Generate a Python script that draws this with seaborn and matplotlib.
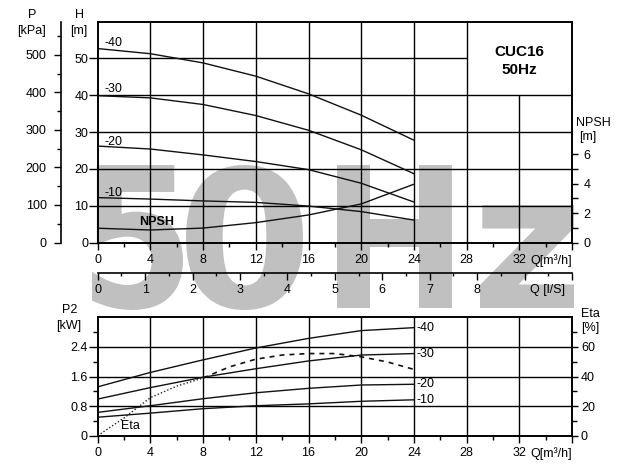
"""Pump curve sheet CUC16 50Hz: head / NPSH and power / efficiency."""

import matplotlib

matplotlib.use("Agg")
import matplotlib.pyplot as plt
import pandas as pd
import seaborn as sns
from matplotlib.font_manager import FontProperties
from matplotlib.patches import PathPatch
from matplotlib.textpath import TextPath
from matplotlib.ticker import FixedFormatter, FixedLocator, MultipleLocator
from matplotlib.transforms import Affine2D

# flow points, m3/h
Q = [0, 4, 8, 12, 16, 20, 24]
STAGES = ["-40", "-30", "-20", "-10"]

# head, m
H_40 = [52.7, 51.3, 48.8, 45.2, 40.4, 34.6, 27.8]
H_30 = [39.9, 39.3, 37.5, 34.5, 30.5, 25.2, 18.7]
H_20 = [26.2, 25.4, 23.8, 22.0, 19.8, 16.1, 11.0]
H_10 = [12.2, 11.8, 11.3, 10.9, 9.9, 8.4, 6.1]
NPSH = [0.97, 0.85, 0.98, 1.35, 1.87, 2.62, 3.96]

# shaft power, kW
P2_40 = [1.32, 1.71, 2.05, 2.37, 2.63, 2.84, 2.92]
P2_30 = [0.99, 1.30, 1.58, 1.81, 2.02, 2.18, 2.22]
P2_20 = [0.63, 0.81, 1.00, 1.16, 1.28, 1.37, 1.39]
P2_10 = [0.50, 0.61, 0.73, 0.81, 0.86, 0.93, 0.97]

# efficiency, %
Q_ETA = [0, 2, 4, 6, 8, 10, 12, 14, 16, 18, 20, 22, 24]
ETA = [0, 12.0, 25.7, 33.5, 39.0, 46.5, 51.7, 54.5, 55.5, 55.5, 53.3, 49.8, 44.8]

X_TICKS = [0, 4, 8, 12, 16, 20, 24, 28, 32, 36]
X_LABELS = ["0", "4", "8", "12", "16", "20", "24", "28", "32", ""]
LS_TICKS = list(range(0, 11))
LS_LABELS = ["0", "1", "2", "3", "4", "5", "6", "7", "8", "", ""]

# watermark glyphs and their pixel boxes (x0, y0, x1, y1)
WM_CHARS = ["5", "0", "H", "z"]
WM_BOXES = [(92, 165, 183, 310), (186, 165, 303, 310),
            (337, 165, 452, 308), (480, 205, 574, 308)]

W, H = 631, 470
FS = 9
LS_POS = -30.8 / 220.8


def long_frame(x, series):
    rows = []
    for name, vals in zip(STAGES, series):
        for q, v in zip(x, vals):
            rows.append((name, q, v))
    return pd.DataFrame(rows, columns=["stage", "Q", "value"])


def fig_box(x0, y0, x1, y1):
    """Pixel box (top-left origin) -> figure fraction rect."""
    return [x0 / W, 1 - y1 / H, (x1 - x0) / W, (y1 - y0) / H]


def style_xaxis(ax):
    ax.set_xlim(0, 36)
    ax.xaxis.set_major_locator(FixedLocator(X_TICKS))
    ax.xaxis.set_major_formatter(FixedFormatter(X_LABELS))
    ax.xaxis.set_minor_locator(MultipleLocator(2))
    ax.tick_params(axis="x", which="major", direction="out", length=5.2,
                   width=1, pad=3.0, labelsize=FS, bottom=True)
    ax.tick_params(axis="x", which="minor", direction="out", length=2.8,
                   width=1, bottom=True)
    ax.annotate("Q[m³/h]", xy=(36, 0), xycoords=ax.get_xaxis_transform(),
                xytext=(0, -8.2), textcoords="offset points",
                ha="right", va="top", fontsize=FS)


sns.set_theme(style="white")
plt.rcParams["font.family"] = ["Liberation Sans", "DejaVu Sans"]
plt.rcParams["axes.edgecolor"] = "black"
plt.rcParams["axes.linewidth"] = 1.2
plt.rcParams["xtick.color"] = "black"
plt.rcParams["ytick.color"] = "black"
plt.rcParams["text.color"] = "black"

fig = plt.figure(figsize=(W / 100, H / 100), dpi=100)

# big grey watermark behind everything
wm_font = FontProperties(family="DejaVu Sans", weight="bold")
for ch, box in zip(WM_CHARS, WM_BOXES):
    glyph = TextPath((0, 0), ch, size=100, prop=wm_font)
    ext = glyph.get_extents()
    bx = fig_box(*box)
    tr = (Affine2D().translate(-ext.x0, -ext.y0)
          .scale(bx[2] / ext.width, bx[3] / ext.height)
          .translate(bx[0], bx[1]))
    fig.add_artist(PathPatch(tr.transform_path(glyph), facecolor="#c0c0c0",
                             edgecolor="none", transform=fig.transFigure,
                             zorder=-5))

# ---------------- head / NPSH panel ----------------
ax_h = fig.add_axes(fig_box(97.7, 21.7, 572, 242.5))
ax_h.set_facecolor("none")
ax_h.set_ylim(0, 60)
style_xaxis(ax_h)
ax_h.yaxis.set_major_locator(FixedLocator([0, 10, 20, 30, 40, 50]))
ax_h.tick_params(axis="y", which="major", direction="out", length=6.3,
                 width=1, pad=0.5, labelsize=FS, left=True)

for q in [4, 8, 12, 16, 20, 24, 28]:
    ax_h.axvline(q, color="black", lw=1.0, zorder=1)
ax_h.vlines(32, 0, 40, color="black", lw=1.0, zorder=1)
for h in [10, 20, 30, 40]:
    ax_h.axhline(h, color="black", lw=1.0, zorder=1)
ax_h.hlines(50, 0, 28, color="black", lw=1.0, zorder=1)

head = long_frame(Q, [H_40, H_30, H_20, H_10])
sns.lineplot(data=head, x="Q", y="value", units="stage", estimator=None,
             color="#111111", lw=1.0, legend=False, ax=ax_h, zorder=3)
ax_h.set_xlabel("")
ax_h.set_ylabel("")

for name, y in zip(STAGES, [54.1, 41.8, 27.2, 13.5]):
    ax_h.text(0.55, y, name, fontsize=FS, ha="left", va="center")
ax_h.text(4.5, 5.7, "NPSH", fontsize=FS, fontweight="bold",
          ha="center", va="center")
ax_h.text(32.0, 51.9, "CUC16", fontsize=11, fontweight="bold",
          ha="center", va="center")
ax_h.text(32.0, 47.0, "50Hz", fontsize=11, fontweight="bold",
          ha="center", va="center")

# pressure scale on the far left
ax_kpa = ax_h.secondary_yaxis(-37 / 474.3,
                              functions=(lambda h: h * 9.81, lambda p: p / 9.81))
ax_kpa.yaxis.set_major_locator(FixedLocator([0, 100, 200, 300, 400, 500]))
ax_kpa.yaxis.set_minor_locator(MultipleLocator(50))
ax_kpa.tick_params(which="major", direction="out", length=5, width=1,
                   pad=5, labelsize=FS)
ax_kpa.tick_params(which="minor", direction="out", length=2.8, width=1)
ax_kpa.spines["left"].set_linewidth(1.2)

# flow scale in l/s
ax_ls = ax_h.secondary_xaxis(LS_POS,
                             functions=(lambda q: q / 3.6, lambda l: l * 3.6))
ax_ls.xaxis.set_major_locator(FixedLocator(LS_TICKS))
ax_ls.xaxis.set_major_formatter(FixedFormatter(LS_LABELS))
ax_ls.xaxis.set_minor_locator(MultipleLocator(0.5))
ax_ls.tick_params(which="major", direction="out", length=4.8, width=1,
                  pad=2.8, labelsize=FS)
ax_ls.tick_params(which="minor", direction="out", length=2.4, width=1)
ax_ls.spines["bottom"].set_linewidth(1.2)
ax_h.annotate("Q [l/S]", xy=(9.85 * 3.6, LS_POS),
              xycoords=ax_h.get_xaxis_transform(),
              xytext=(0, -7.6), textcoords="offset points",
              ha="right", va="top", fontsize=FS)

# NPSH scale on the right
ax_n = ax_h.twinx()
ax_n.set_facecolor("none")
ax_n.set_ylim(0, 15)
ax_n.yaxis.set_major_locator(FixedLocator([0, 2, 4, 6]))
ax_n.yaxis.set_minor_locator(FixedLocator([1, 3, 5]))
ax_n.tick_params(axis="y", which="major", direction="out", length=4.3,
                 width=1, pad=4, labelsize=FS, right=True)
ax_n.tick_params(axis="y", which="minor", direction="out", length=4.3,
                 width=1, right=True)
npsh = pd.DataFrame({"Q": Q, "NPSH": NPSH})
sns.lineplot(data=npsh, x="Q", y="NPSH", color="#111111", lw=1.0,
             ax=ax_n, zorder=3)
ax_n.set_ylabel("")

fig.text(32 / W, 1 - 15 / H, "P", fontsize=FS, ha="center", va="center")
fig.text(31 / W, 1 - 31 / H, "[kPa]", fontsize=FS, ha="center", va="center")
fig.text(79 / W, 1 - 15 / H, "H", fontsize=FS, ha="center", va="center")
fig.text(79 / W, 1 - 31 / H, "[m]", fontsize=FS, ha="center", va="center")
fig.text(593 / W, 1 - 123 / H, "NPSH", fontsize=FS, ha="center", va="center")
fig.text(588 / W, 1 - 137 / H, "[m]", fontsize=FS, ha="center", va="center")

# ---------------- power / efficiency panel ----------------
ax_p = fig.add_axes(fig_box(97.7, 317.3, 572, 435.7))
ax_p.set_facecolor("none")
ax_p.set_ylim(0, 3.2)
style_xaxis(ax_p)
ax_p.yaxis.set_major_locator(FixedLocator([0, 0.8, 1.6, 2.4]))
ax_p.yaxis.set_major_formatter(FixedFormatter(["0", "0.8", "1.6", "2.4"]))
ax_p.yaxis.set_minor_locator(FixedLocator([0.4, 1.2, 2.0, 2.8]))
ax_p.tick_params(axis="y", which="major", direction="out", length=6.3,
                 width=1, pad=1, labelsize=FS, left=True)
ax_p.tick_params(axis="y", which="minor", direction="out", length=3.5,
                 width=1, left=True)

for q in [4, 8, 12, 16, 20, 24, 28, 32]:
    ax_p.axvline(q, color="black", lw=1.0, zorder=1)
for p in [0.8, 1.6, 2.4]:
    ax_p.axhline(p, color="black", lw=1.0, zorder=1)

power = long_frame(Q, [P2_40, P2_30, P2_20, P2_10])
sns.lineplot(data=power, x="Q", y="value", units="stage", estimator=None,
             color="#111111", lw=1.0, legend=False, ax=ax_p, zorder=3)
ax_p.set_xlabel("")
ax_p.set_ylabel("")
for name, vals in zip(STAGES, [P2_40, P2_30, P2_20, P2_10]):
    ax_p.text(24.2, vals[-1], name, fontsize=FS, ha="left", va="center")
ax_p.text(2.5, 0.265, "Eta", fontsize=FS, ha="center", va="center")

ax_e = ax_p.twinx()
ax_e.set_facecolor("none")
ax_e.set_ylim(0, 80)
ax_e.yaxis.set_major_locator(FixedLocator([0, 20, 40, 60]))
ax_e.yaxis.set_minor_locator(FixedLocator([10, 30, 50, 70]))
ax_e.tick_params(axis="y", which="major", direction="out", length=4,
                 width=1, pad=2.4, labelsize=FS, right=True)
ax_e.tick_params(axis="y", which="minor", direction="out", length=3.3,
                 width=1, right=True)
eta = pd.DataFrame({"Q": Q_ETA, "Eta": ETA})
sns.lineplot(data=eta.iloc[:5], x="Q", y="Eta", color="#222222", lw=1.0,
             linestyle=(0, (1, 1.5)), ax=ax_e, zorder=3)
sns.lineplot(data=eta.iloc[4:], x="Q", y="Eta", color="#111111", lw=1.2,
             linestyle=(0, (3, 3)), ax=ax_e, zorder=3)
ax_e.set_ylabel("")

fig.text(70 / W, 1 - 310 / H, "P2", fontsize=FS, ha="center", va="center")
fig.text(69 / W, 1 - 326 / H, "[kW]", fontsize=FS, ha="center", va="center")
fig.text(590 / W, 1 - 314 / H, "Eta", fontsize=FS, ha="center", va="center")
fig.text(590 / W, 1 - 328 / H, "[%]", fontsize=FS, ha="center", va="center")

fig.savefig("out.png", dpi=100)
